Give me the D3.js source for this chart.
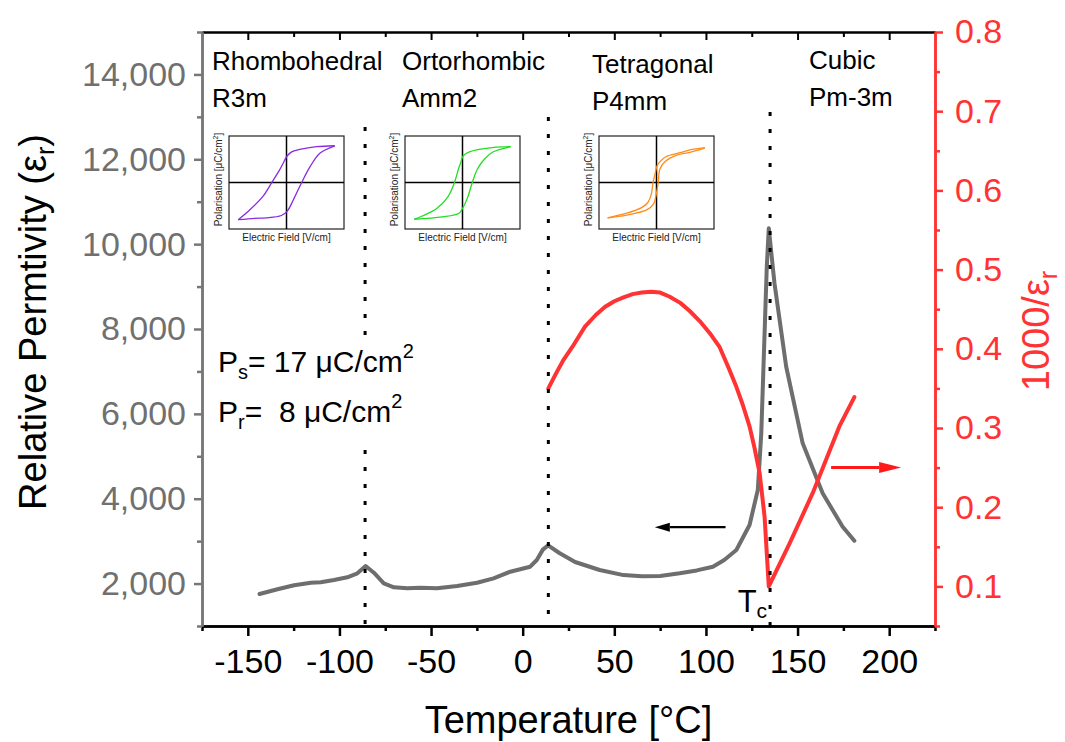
<!DOCTYPE html>
<html>
<head>
<meta charset="utf-8">
<script src="https://cdn.jsdelivr.net/npm/d3@7"></script>
<style>
  html, body { margin: 0; padding: 0; background: #fff; }
  svg { display: block; font-family: "Liberation Sans", Arial, sans-serif; }
</style>
</head>
<body>
<svg id="chart" width="1065" height="742"></svg>
<script>
// ---- Relative permittivity vs temperature (left axis) ----
const permTemp = [-143.6, -133.8, -124.7, -115.6, -110.2, -103, -95.7, -90.2, -85.7, -81.2, -75.8, -70.3, -63, -55.8, -46.7, -35.8, -24.9, -15.9, -6.8, 4.1, 7.7, 11, 13.9, 20, 28.6, 42, 55, 65, 75, 85.7, 95, 103.8, 110, 116.6, 123.8, 128.3, 130.2, 132, 133.2, 134.3, 137.4, 143.8, 152.8, 163.7, 174.6, 181];
const permittivity = [1754, 1865, 1959, 2020, 2030, 2084, 2147, 2242, 2414, 2256, 2006, 1912, 1888, 1903, 1888, 1943, 2020, 2124, 2280, 2398, 2555, 2800, 2900, 2720, 2508, 2320, 2200, 2170, 2180, 2242, 2310, 2398, 2555, 2791, 3380, 4205, 5541, 7898, 9468, 10373, 9077, 7110, 5306, 4127, 3340, 3010];

// ---- Inverse permittivity 1000/eps_r (right axis) ----
const invTemp = [14, 18, 22, 27, 34, 40, 45, 50, 55, 60, 65, 70, 75, 80, 86, 91, 96.6, 102, 107.5, 112, 116.6, 120, 123.8, 126.5, 129.3, 132, 134.3, 145.6, 158.3, 172.8, 181];
const inversePerm = [0.35, 0.368, 0.385, 0.402, 0.428, 0.443, 0.453, 0.46, 0.465, 0.469, 0.471, 0.472, 0.471, 0.466, 0.458, 0.448, 0.435, 0.42, 0.402, 0.378, 0.352, 0.33, 0.302, 0.275, 0.243, 0.188, 0.1, 0.154, 0.218, 0.302, 0.339];

// ---- Phase boundaries and labels ----
const phaseBoundaries = [-86, 14, 135];
const phaseNames = ["Rhombohedral", "Ortorhombic", "Tetragonal", "Cubic"];
const spaceGroups = ["R3m", "Amm2", "P4mm", "Pm-3m"];

// ---- Axis ticks ----
const xTicks = [-150, -100, -50, 0, 50, 100, 150, 200];
const xMinorTicks = [-175, -125, -75, -25, 25, 75, 125, 175, 225];
const leftTicks = [2000, 4000, 6000, 8000, 10000, 12000, 14000];
const leftMinorTicks = [1000, 3000, 5000, 7000, 9000, 11000, 13000, 15000];
const rightTicks = [0.1, 0.2, 0.3, 0.4, 0.5, 0.6, 0.7, 0.8];
const rightMinorTicks = [0.05, 0.15, 0.25, 0.35, 0.45, 0.55, 0.65, 0.75];

// ---- P-E hysteresis loops (normalised field, polarisation) ----
const rhombUpper = [[0.84, 0.79], [0.52, 0.77], [0.23, 0.71], [0.09, 0.66], [0.01, 0.57], [-0.06, 0.41], [-0.12, 0.27], [-0.26, -0.01], [-0.41, -0.3], [-0.64, -0.59], [-0.84, -0.8]];
const rhombLower = [[-0.84, -0.8], [-0.55, -0.77], [-0.35, -0.76], [-0.09, -0.71], [0.01, -0.62], [0.12, -0.37], [0.26, -0.01], [0.41, 0.34], [0.58, 0.63], [0.84, 0.79]];
const orthoUpper = [[0.84, 0.77], [0.52, 0.75], [0.12, 0.66], [0.01, 0.57], [-0.03, 0.43], [-0.07, 0.29], [-0.14, 0], [-0.26, -0.32], [-0.46, -0.57], [-0.7, -0.72], [-0.84, -0.79]];
const orthoLower = [[-0.84, -0.79], [-0.35, -0.74], [-0.06, -0.66], [0, -0.56], [0.09, -0.32], [0.17, 0], [0.26, 0.29], [0.38, 0.5], [0.52, 0.65], [0.84, 0.77]];
const tetraUpper = [[0.84, 0.75], [0.58, 0.7], [0.41, 0.64], [0.17, 0.56], [0.07, 0.46], [0.01, 0.36], [-0.02, 0.21], [-0.06, 0], [-0.09, -0.25], [-0.15, -0.43], [-0.26, -0.54], [-0.52, -0.66], [-0.85, -0.76]];
const tetraLower = [[-0.85, -0.76], [-0.52, -0.7], [-0.17, -0.59], [-0.05, -0.46], [-0.01, -0.29], [0.03, 0], [0.06, 0.29], [0.15, 0.45], [0.35, 0.59], [0.58, 0.65], [0.84, 0.74]];

// ---- Layout ----
const svg = d3.select("#chart");
const plot = { left: 202, right: 935, top: 32, bottom: 626 };
const GREY = "#6e6e6e", RED = "#ff3333";

const x = d3.scaleLinear().domain([-175, 225]).range([plot.left, plot.right]);
const yL = d3.scaleLinear().domain([1000, 15000]).range([plot.bottom, plot.top]);
const yR = d3.scaleLinear().domain([0.05, 0.8]).range([plot.bottom, plot.top]);

const fmtX = d => String(d);            // plain hyphen minus
const fmtL = d3.format(",");
const fmtR = d => d.toFixed(1);

function styleAxis(g, color, width, fontSize, textColor) {
  g.select(".domain").attr("stroke", color).attr("stroke-width", width);
  g.selectAll(".tick line").attr("stroke", color).attr("stroke-width", width);
  g.selectAll(".tick text").attr("font-size", fontSize).attr("fill", textColor)
    .attr("font-family", "'Liberation Sans', Arial, sans-serif");
}

// bottom axis
const gxMinor = svg.append("g").attr("transform", `translate(0,${plot.bottom})`)
  .call(d3.axisBottom(x).tickValues(xMinorTicks).tickSize(5).tickSizeOuter(0).tickFormat(""));
styleAxis(gxMinor, "#000", 2.5, 0, "#000");
const gx = svg.append("g").attr("transform", `translate(0,${plot.bottom})`)
  .call(d3.axisBottom(x).tickValues(xTicks).tickSize(10).tickSizeOuter(0).tickPadding(13).tickFormat(fmtX));
styleAxis(gx, "#000", 2.5, 34, "#000");

// top border with inward ticks
const gTop = svg.append("g").attr("transform", `translate(0,${plot.top})`)
  .call(d3.axisBottom(x).tickValues(xTicks).tickSize(8).tickSizeOuter(0).tickFormat(""));
styleAxis(gTop, "#000", 2, 0, "#000");
const gTopMinor = svg.append("g").attr("transform", `translate(0,${plot.top})`)
  .call(d3.axisBottom(x).tickValues(xMinorTicks.filter(d => d > -175 && d < 225)).tickSize(5).tickSizeOuter(0).tickFormat(""));
styleAxis(gTopMinor, "#000", 2, 0, "#000");

// left axis (permittivity)
const gyLMinor = svg.append("g").attr("transform", `translate(${plot.left},0)`)
  .call(d3.axisLeft(yL).tickValues(leftMinorTicks).tickSize(5).tickSizeOuter(0).tickFormat(""));
styleAxis(gyLMinor, "#777", 2.5, 0, "#777");
const gyL = svg.append("g").attr("transform", `translate(${plot.left},0)`)
  .call(d3.axisLeft(yL).tickValues(leftTicks).tickSize(8).tickSizeOuter(0).tickPadding(8).tickFormat(fmtL));
styleAxis(gyL, "#777", 2.5, 34, "#707070");

// right axis (inverse permittivity)
const gyRMinor = svg.append("g").attr("transform", `translate(${plot.right},0)`)
  .call(d3.axisRight(yR).tickValues(rightMinorTicks).tickSize(5).tickSizeOuter(0).tickFormat(""));
styleAxis(gyRMinor, RED, 2.5, 0, RED);
const gyR = svg.append("g").attr("transform", `translate(${plot.right},0)`)
  .call(d3.axisRight(yR).tickValues(rightTicks).tickSize(8).tickSizeOuter(0).tickPadding(12).tickFormat(fmtR));
styleAxis(gyR, RED, 2.5, 34, RED);

// axis titles
svg.append("text")
  .attr("x", (plot.left + plot.right) / 2).attr("y", 733)
  .attr("text-anchor", "middle").attr("font-size", 38).attr("fill", "#000")
  .text("Temperature [°C]");

const yTitle = svg.append("text")
  .attr("transform", "translate(46,322) rotate(-90)")
  .attr("text-anchor", "middle").attr("font-size", 38).attr("fill", "#000");
yTitle.append("tspan").text("Relative Permtivity (ε");
yTitle.append("tspan").attr("font-size", 25).attr("dy", 8).text("r");
yTitle.append("tspan").attr("dy", -8).text(")");

const rTitle = svg.append("text")
  .attr("transform", "translate(1049,331) rotate(-90)")
  .attr("text-anchor", "middle").attr("font-size", 38).attr("fill", RED);
rTitle.append("tspan").text("1000/ε");
rTitle.append("tspan").attr("font-size", 25).attr("dy", 8).text("r");

// ---- Curves ----
const permLine = d3.line().x((d, i) => x(permTemp[i])).y(d => yL(d)).curve(d3.curveLinear);
svg.append("path").datum(permittivity)
  .attr("d", permLine).attr("fill", "none").attr("stroke", GREY)
  .attr("stroke-width", 4).attr("stroke-linejoin", "round").attr("stroke-linecap", "round");

const invLine = d3.line().x((d, i) => x(invTemp[i])).y(d => yR(d)).curve(d3.curveLinear);
svg.append("path").datum(inversePerm)
  .attr("d", invLine).attr("fill", "none").attr("stroke", RED)
  .attr("stroke-width", 4).attr("stroke-linejoin", "round").attr("stroke-linecap", "round");

// ---- Phase boundary markers ----
const boundaryTop = [127, 117, 112];
svg.append("g").selectAll("line").data(phaseBoundaries).join("line")
  .attr("x1", d => x(d)).attr("x2", d => x(d))
  .attr("y1", (d, i) => boundaryTop[i]).attr("y2", plot.bottom)
  .attr("stroke", "#000").attr("stroke-width", 3).attr("stroke-dasharray", "4,13");

// ---- Spontaneous / remanent polarisation note (boxed) ----
svg.append("rect").attr("x", 212).attr("y", 338).attr("width", 212).attr("height", 110).attr("fill", "#fff");
const ps = svg.append("text").attr("x", 218).attr("y", 372).attr("font-size", 30).attr("fill", "#000").style("white-space", "pre");
ps.append("tspan").text("P");
ps.append("tspan").attr("font-size", 20).attr("dy", 7).text("s");
ps.append("tspan").attr("dy", -7).text("= 17 μC/cm");
ps.append("tspan").attr("font-size", 20).attr("dy", -14).text("2");
const pr = svg.append("text").attr("x", 218).attr("y", 422).attr("font-size", 30).attr("fill", "#000").style("white-space", "pre");
pr.append("tspan").text("P");
pr.append("tspan").attr("font-size", 20).attr("dy", 7).text("r");
pr.append("tspan").attr("dy", -7).text("=  8 μC/cm");
pr.append("tspan").attr("font-size", 20).attr("dy", -14).text("2");

// ---- Phase labels ----
const phaseLabelX = [212, 402, 592, 809];
const phaseLabelY = [70, 70, 73, 69];
phaseNames.forEach((name, i) => {
  svg.append("text").attr("x", phaseLabelX[i]).attr("y", phaseLabelY[i])
    .attr("font-size", 26).attr("fill", "#000").text(name);
  svg.append("text").attr("x", phaseLabelX[i]).attr("y", phaseLabelY[i] + 37)
    .attr("font-size", 26).attr("fill", "#000").text(spaceGroups[i]);
});

// ---- Curie temperature label ----
const tc = svg.append("text").attr("x", x(phaseBoundaries[2]) - 3).attr("y", 612)
  .attr("text-anchor", "end").attr("font-size", 31).attr("fill", "#000");
tc.append("tspan").text("T");
tc.append("tspan").attr("font-size", 21).attr("dy", 6).text("c");

// ---- Axis indicator arrows ----
function arrow(x1, x2, yPix, color, width, headLen, headHalf) {
  const dir = Math.sign(x2 - x1);
  svg.append("line").attr("x1", x1).attr("x2", x2 - dir * headLen).attr("y1", yPix).attr("y2", yPix)
    .attr("stroke", color).attr("stroke-width", width);
  svg.append("path")
    .attr("d", `M${x2},${yPix} L${x2 - dir * headLen},${yPix - headHalf} L${x2 - dir * headLen},${yPix + headHalf} Z`)
    .attr("fill", color);
}
arrow(x(110.7), x(72.1), yL(3330), "#000", 2.2, 15, 4.5);
arrow(x(168.3), x(206.5), yR(0.25), "#ff1a1a", 3, 22, 5.5);

// ---- Hysteresis loop insets ----
const insets = [
  { x: 229, y: 136, upper: rhombUpper, lower: rhombLower, color: "#8a2be2" },
  { x: 405, y: 136, upper: orthoUpper, lower: orthoLower, color: "#22dd22" },
  { x: 599, y: 136, upper: tetraUpper, lower: tetraLower, color: "#ff8c1a" }
];
const insetW = 115, insetH = 93;
insets.forEach(b => {
  const g = svg.append("g");
  const ex = d3.scaleLinear().domain([-1, 1]).range([b.x, b.x + insetW]);
  const ep = d3.scaleLinear().domain([-1, 1]).range([b.y + insetH, b.y]);
  g.append("rect").attr("x", b.x).attr("y", b.y).attr("width", insetW).attr("height", insetH)
    .attr("fill", "#fff").attr("stroke", "#222").attr("stroke-width", 1.2);
  g.append("line").attr("x1", ex(0)).attr("x2", ex(0)).attr("y1", b.y).attr("y2", b.y + insetH)
    .attr("stroke", "#000").attr("stroke-width", 1.5);
  g.append("line").attr("x1", b.x).attr("x2", b.x + insetW).attr("y1", ep(0)).attr("y2", ep(0))
    .attr("stroke", "#000").attr("stroke-width", 1.5);
  const loop = d3.line().x(d => ex(d[0])).y(d => ep(d[1])).curve(d3.curveCatmullRom.alpha(0.5));
  [b.upper, b.lower].forEach(branch => {
    g.append("path").datum(branch).attr("d", loop).attr("fill", "none")
      .attr("stroke", b.color).attr("stroke-width", 1.3);
  });
  g.append("text").attr("x", b.x + insetW / 2).attr("y", b.y + insetH + 12)
    .attr("text-anchor", "middle").attr("font-size", 10).attr("fill", "#222")
    .text("Electric Field [V/cm]");
  const pl = g.append("text")
    .attr("transform", `translate(${b.x - 7},${b.y + insetH / 2 - 3}) rotate(-90)`)
    .attr("text-anchor", "middle").attr("font-size", 10).attr("fill", "#222");
  pl.append("tspan").text("Polarisation [μC/cm");
  pl.append("tspan").attr("font-size", 7).attr("dy", -4).text("2");
  pl.append("tspan").attr("dy", 4).text("]");
});
</script>
</body>
</html>
